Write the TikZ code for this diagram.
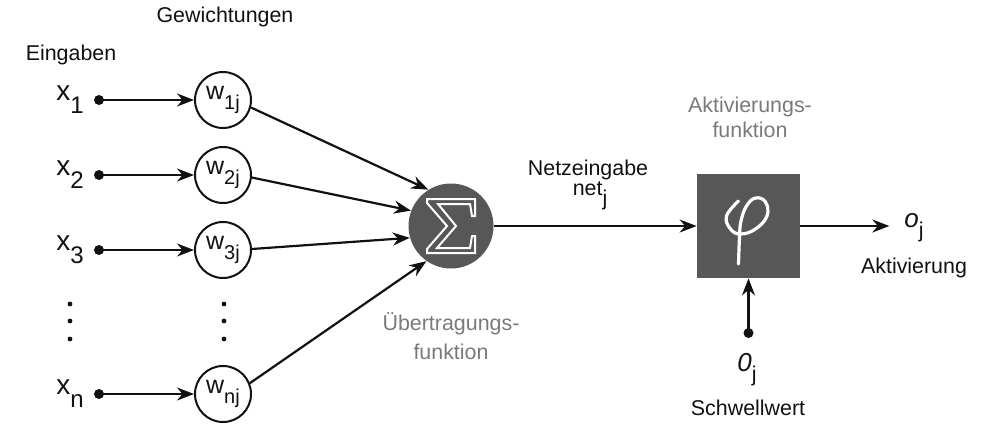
\documentclass[tikz,border=0pt]{standalone}
\usepackage{fontspec}
\setmainfont{Liberation Sans}
\usetikzlibrary{arrows.meta}

\definecolor{neurongray}{HTML}{575757}
\definecolor{labelgray}{HTML}{7A7A7A}
\definecolor{inkblack}{HTML}{111111}

% variable with a lowered index, as x_1 and w_1j
\newcommand{\vsub}[2]{{\fontsize{14}{16}\selectfont #1}\raisebox{-6.5pt}{\fontsize{12}{14}\selectfont #2}}
\newcommand{\wsub}[1]{{\fontsize{12.5}{14}\selectfont w}\raisebox{-5pt}{\fontsize{10}{12}\selectfont #1}}
\newcommand{\lsub}[2]{#1\raisebox{-5pt}{#2}}

\begin{document}
\begin{tikzpicture}[x=0.5pt, y=-0.5pt, inkblack, font=\fontsize{10.7}{12.6}\selectfont]
\tikzstyle{weight}=[circle, draw, line width=1pt, minimum size=28pt, inner sep=0pt];
\tikzstyle{signal}=[-{Stealth[length=8.5pt, width=6.5pt]}, line width=1.1pt];
\tikzstyle{inputdot}=[circle, fill, inner sep=0pt, minimum size=5pt];
\tikzstyle{caption}=[labelgray, align=center];
\useasboundingbox (0, 0) rectangle (989, 424);

\node (eingaben) at (71, 55) {Eingaben};
\node (gewichtungen) at (225, 17) {Gewichtungen};

% inputs and weights
\node (x1) at (70, 100) {\vsub{x}{1}};
\node (x2) at (70, 175) {\vsub{x}{2}};
\node (x3) at (70, 250) {\vsub{x}{3}};
\node (xn) at (70, 394) {\vsub{x}{n}};

\node[inputdot] (d1) at (99, 100) {};
\node[inputdot] (d2) at (99, 175) {};
\node[inputdot] (d3) at (99, 250) {};
\node[inputdot] (dn) at (99, 394) {};

\node[weight] (w1) at (223, 100) {\wsub{1j}};
\node[weight] (w2) at (223, 175) {\wsub{2j}};
\node[weight] (w3) at (223, 250) {\wsub{3j}};
\node[weight] (wn) at (223, 394) {\wsub{nj}};

\foreach \y in {304, 321, 339} {
  \fill (70, \y) circle (1.2pt);
  \fill (224, \y) circle (1.2pt);
}

% transfer function
\node[circle, fill=neurongray, minimum size=42.5pt, inner sep=0pt] (sum) at (451, 226) {};
\draw[white, line width=1pt, line join=miter, shift={(sum.center)}]
  (-24, -27) -- (24, -27) -- (24, -10) -- (21, -10) -- (19, -22) -- (-13, -22)
  -- (5, 0) -- (-14, 22) -- (19, 22) -- (21, 10) -- (24, 10) -- (24, 27)
  -- (-24, 27) -- (-24, 23) -- (-4, 0) -- (-24, -23) -- cycle;
\node[caption] (uebertragung) at (451, 336) {Übertragungs-\\[2pt]funktion};

% activation function
\node[fill=neurongray, minimum width=51.5pt, minimum height=52pt, inner sep=0pt] (act) at (748.5, 226) {};
\draw[white, line width=1.6pt, line cap=round, shift={(act.center)}]
  plot[smooth, tension=0.7] coordinates {(-10, -25) (-22, -10) (-18, 3) (-8, 8) (7, 3) (18.5, -10)
  (17, -24) (7, -28) (-2, -20) (-7.5, -5) (-9, 11) (-10, 38)};
\node[caption] (aktfunktion) at (750, 117) {Aktivierungs-\\funktion};

\node (netz) at (588, 170) {Netzeingabe};
\node (net) at (590, 196) {\lsub{net}{j}};

\node (oj) at (914, 228) {\lsub{{\fontsize{13}{14}\selectfont\itshape o}}{j}};
\node (aktivierung) at (914, 268) {Aktivierung};

\node[inputdot] (tdot) at (748.5, 333) {};
\node (theta) at (747, 370) {\lsub{{\fontsize{13}{14}\selectfont\itshape 0}}{j}};
\node (schwellwert) at (748, 408) {Schwellwert};

\draw[signal] (d1.center) -- (w1);
\draw[signal] (d2.center) -- (w2);
\draw[signal] (d3.center) -- (w3);
\draw[signal] (dn.center) -- (wn);

\draw[signal] (w1.-15) -- (sum.122);
\draw[signal] (w2.-5) -- (sum.159);
\draw[signal] (w3.2) -- (sum.196);
\draw[signal] (wn.22) -- (sum.235);

\draw[signal] (sum) -- (act);
\draw[signal] (act.east) -- ([xshift=-4pt] act.east -| oj.west);
\draw[signal] (tdot.center) -- (act.south);
\end{tikzpicture}
\end{document}
